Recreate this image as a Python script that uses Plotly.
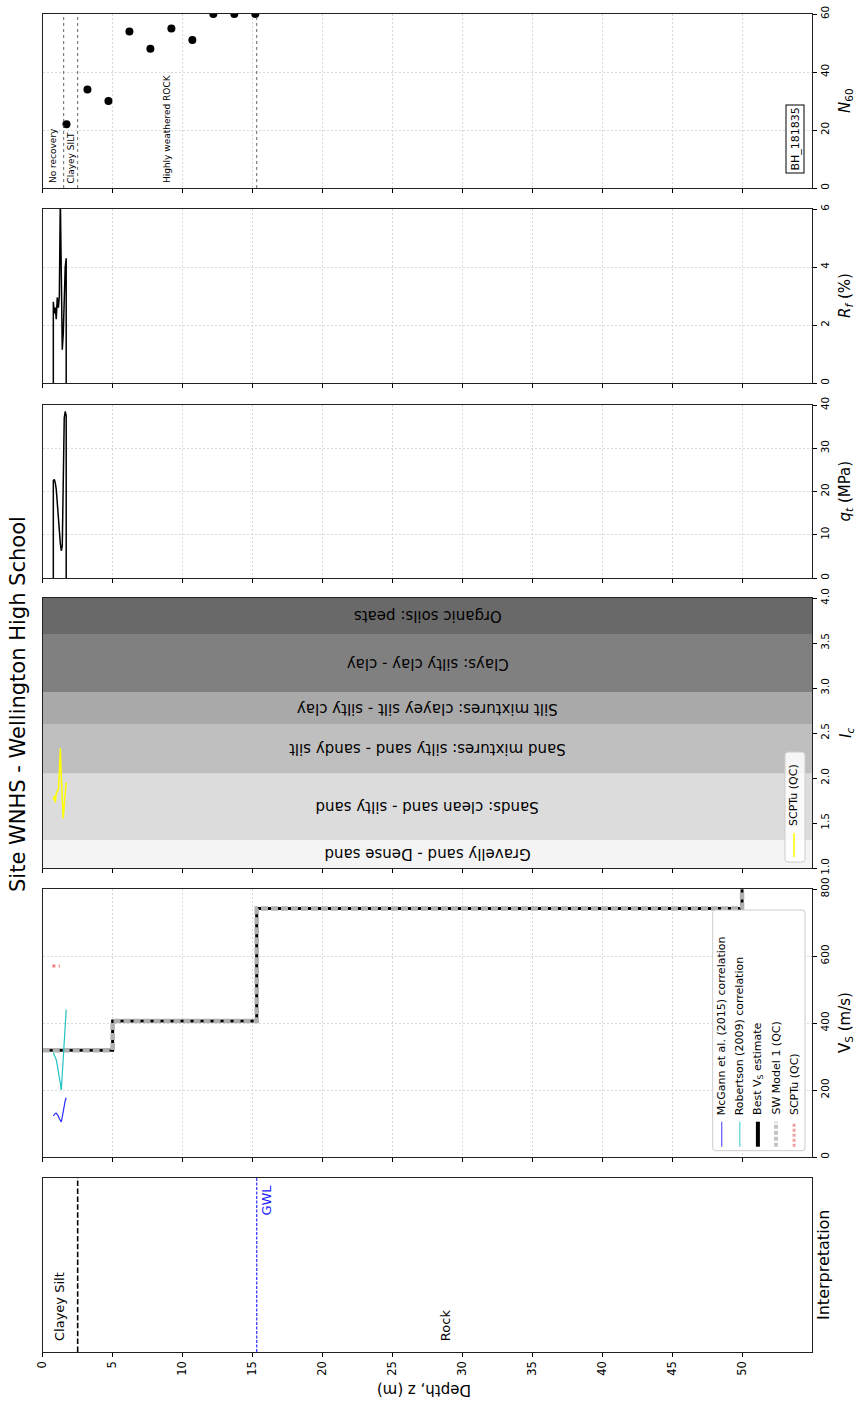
import plotly.graph_objects as go

W, H = 862, 1407
FONT = "DejaVu Sans"

# ---------------- data ----------------
max_depth = 55.0
depth_ticks = [0, 5, 10, 15, 20, 25, 30, 35, 40, 45, 50]

# SPT blow counts from borehole BH_181835
spt_depth = [1.7, 3.2, 4.7, 6.2, 7.7, 9.2, 10.7, 12.2, 13.7, 15.2]
spt_n60 = [22, 34, 30, 54, 48, 55, 51, 60, 60, 60]

# borehole log units
bh_unit_top = [0.0, 1.5, 2.5]
bh_unit_base = [1.5, 2.5, 15.3]
bh_unit_names = ["No recovery", "Clayey SILT", "Highly weathered ROCK"]

# SCPTu (QC) sounding
cpt_depth = [0.76, 0.83, 0.90, 0.97, 1.04, 1.12, 1.19, 1.26, 1.33, 1.40, 1.47, 1.54, 1.61, 1.68]
cpt_qt = [22.5, 22.8, 22.0, 20.5, 18.0, 14.5, 11.0, 8.0, 6.3, 7.5, 20.0, 37.0, 38.5, 37.5]
cpt_rf = [2.8, 2.4, 2.6, 2.2, 2.95, 2.6, 3.0, 6.4, 3.2, 1.15, 1.7, 3.0, 4.0, 4.3]
cpt_ic = [1.76, 1.80, 1.73, 1.83, 1.85, 1.87, 2.05, 2.33, 2.00, 1.70, 1.55, 1.70, 1.85, 1.95]
vs_mcgann = [123, 128, 130, 131, 128, 122, 114, 108, 105, 120, 140, 155, 168, 177]
vs_robertson = [312, 305, 300, 290, 275, 258, 240, 220, 200, 255, 301, 348, 394, 440]

# layered Vs profiles
vs_layer_top = [0.0, 5.0, 15.3, 50.0]
vs_best = [319, 406, 742, 1000]
vs_sw_model = [319, 406, 742, 1000]
scptu_vs_depth = [0.69, 1.22]
scptu_vs = [570, 570]

# Robertson soil behaviour type zones
ic_bounds = [1.0, 1.31, 2.05, 2.6, 2.95, 3.6, 4.0]
ic_zone_names = ["Gravelly sand - Dense sand", "Sands: clean sand - silty sand",
                 "Sand mixtures: silty sand - sandy silt", "Silt mixtures: clayey silt - silty clay",
                 "Clays: silty clay - clay", "Organic soils: peats"]
ic_zone_colors = ["#f4f4f4", "#dcdcdc", "#bfbfbf", "#a9a9a9", "#808080", "#696969"]

# interpreted profile
interp_top = [0.0, 2.5]
interp_base = [2.5, 55.0]
interp_names = ["Clayey Silt", "Rock"]
gwl_depth = 15.3

# ---------------- layout helpers ----------------
def pxx(x):
    return x / W


def pxy(y):
    return 1 - y / H


X0, X1 = 42.7, 812.0
# (top, bottom) pixel rows of the six stacked panels
panels = [(14, 188), (209, 383), (405, 578), (598, 868), (889, 1157), (1178, 1352)]
yranges = [[0, 60], [0, 6], [0, 40], [1, 4], [0, 800], [0, 1]]
ydticks = [20, 2, 10, 0.5, 200, 1]
grids = [True, True, True, False, True, False]
GRID = dict(gridcolor="#d9d9d9", griddash="2px,2px", gridwidth=0.8)

fig = go.Figure()
layout = dict(
    width=W, height=H, margin=dict(l=0, r=0, t=0, b=0),
    paper_bgcolor="white", plot_bgcolor="white",
    font=dict(family=FONT, color="black", size=11),
    showlegend=False,
)

for i, ((top, bot), yr, dt, g) in enumerate(zip(panels, yranges, ydticks, grids), start=1):
    sfx = "" if i == 1 else str(i)
    layout["xaxis" + sfx] = dict(
        domain=[pxx(X0), pxx(X1)], anchor="y" + sfx, range=[0, max_depth],
        tickmode="array", tickvals=depth_ticks, ticks="outside", ticklen=3.5, tickwidth=1,
        tickcolor="black", showticklabels=(i == 6), tickangle=-90, tickfont=dict(size=11.5),
        showgrid=g, **GRID,
        showline=True, mirror=True, linecolor="#222", linewidth=1, zeroline=False,
        automargin=False,
    )
    layout["yaxis" + sfx] = dict(
        domain=[pxy(bot), pxy(top)], anchor="x" + sfx, range=yr, side="right",
        tick0=yr[0], dtick=dt, ticks=("outside" if i != 6 else ""), ticklen=3.5, tickwidth=1,
        tickcolor="black", showticklabels=(i != 6), tickangle=-90, tickfont=dict(size=10.5),
        tickformat=(".1f" if i == 4 else "d"),
        showgrid=g, **GRID,
        showline=True, mirror=True, linecolor="#222", linewidth=1, zeroline=False,
        automargin=False,
    )

shapes = []
annotations = []


def ann(text, x, y, size=11, angle=-90, color="black", xanchor="center", yanchor="middle",
        xref="paper", yref="paper", **kw):
    annotations.append(dict(text=text, x=x, y=y, xref=xref, yref=yref, showarrow=False,
                            textangle=angle, font=dict(size=size, color=color, family=FONT),
                            xanchor=xanchor, yanchor=yanchor, **kw))


def rounded_box(x0, y0, x1, y1, r=3, fill="rgba(255,255,255,0.85)", line="#cccccc"):
    a, b, c, d = pxx(x0), pxx(x1), pxy(y0), pxy(y1)
    rx, ry = r / W, r / H
    path = (f"M {a+rx},{c} L {b-rx},{c} Q {b},{c} {b},{c-ry} L {b},{d+ry} Q {b},{d} {b-rx},{d} "
            f"L {a+rx},{d} Q {a},{d} {a},{d+ry} L {a},{c-ry} Q {a},{c} {a+rx},{c} Z")
    shapes.append(dict(type="path", path=path, xref="paper", yref="paper",
                       fillcolor=fill, line=dict(color=line, width=1), layer="above"))


# ---------------- panel 1: N60 ----------------
for base in bh_unit_base:
    shapes.append(dict(type="line", xref="x", yref="y domain", x0=base, x1=base, y0=0, y1=1,
                       line=dict(color="#555", width=0.9, dash="dot"), layer="above"))
for t, b_, name in zip(bh_unit_top, bh_unit_base, bh_unit_names):
    ann(name, (t + b_) / 2, 0.015, size=9, xref="x", yref="y domain", yanchor="bottom")
fig.add_trace(go.Scatter(x=spt_depth, y=spt_n60, mode="markers", xaxis="x", yaxis="y",
                         marker=dict(color="black", size=8)))
annotations.append(dict(text="BH_181835", x=pxx(794.5), y=pxy(139), xref="paper", yref="paper",
                        showarrow=False, textangle=-90, font=dict(size=11, family=FONT),
                        bordercolor="black", borderwidth=1, borderpad=2, bgcolor="white",
                        xanchor="center", yanchor="middle"))

# ---------------- panel 2: Rf ----------------
fig.add_trace(go.Scatter(x=[cpt_depth[0]] + cpt_depth + [cpt_depth[-1]], y=[0] + cpt_rf + [0],
                         mode="lines", xaxis="x2", yaxis="y2", line=dict(color="black", width=1.5)))

# ---------------- panel 3: qt ----------------
fig.add_trace(go.Scatter(x=[cpt_depth[0]] + cpt_depth + [cpt_depth[-1]], y=[0] + cpt_qt + [0],
                         mode="lines", xaxis="x3", yaxis="y3", line=dict(color="black", width=1.5)))

# ---------------- panel 4: Ic ----------------
for lo, hi, col, name in zip(ic_bounds[:-1], ic_bounds[1:], ic_zone_colors, ic_zone_names):
    shapes.append(dict(type="rect", xref="x4 domain", yref="y4", x0=0, x1=1, y0=lo, y1=hi,
                       fillcolor=col, line=dict(width=0), layer="below"))
    ann(name, max_depth / 2, (lo + hi) / 2, size=15, angle=180, xref="x4", yref="y4")
fig.add_trace(go.Scatter(x=cpt_depth, y=cpt_ic, mode="lines", xaxis="x4", yaxis="y4",
                         line=dict(color="#ffff00", width=1.5)))
rounded_box(785, 752, 805, 862)
shapes.append(dict(type="line", xref="paper", yref="paper", x0=pxx(794), x1=pxx(794),
                   y0=pxy(857), y1=pxy(833), line=dict(color="#ffff00", width=1.5)))
ann("SCPTu (QC)", pxx(794), pxy(828), size=11, yanchor="bottom")

# ---------------- panel 5: Vs ----------------
step_x = vs_layer_top + [max_depth]
fig.add_trace(go.Scatter(x=step_x, y=vs_best + [vs_best[-1]], mode="lines", line_shape="hv",
                         xaxis="x5", yaxis="y5", line=dict(color="black", width=3)))
fig.add_trace(go.Scatter(x=step_x, y=vs_sw_model + [vs_sw_model[-1]], mode="lines", line_shape="hv",
                         xaxis="x5", yaxis="y5", line=dict(color="#b0b0b0", width=4.5, dash="7px,3px")))
fig.add_trace(go.Scatter(x=cpt_depth, y=vs_robertson, mode="lines", xaxis="x5", yaxis="y5",
                         line=dict(color="#22c3c3", width=1.2)))
fig.add_trace(go.Scatter(x=cpt_depth, y=vs_mcgann, mode="lines", xaxis="x5", yaxis="y5",
                         line=dict(color="#2a2aff", width=1.2)))
fig.add_trace(go.Scatter(x=scptu_vs_depth, y=scptu_vs, mode="lines", xaxis="x5", yaxis="y5",
                         line=dict(color="#f08080", width=3, dash="3px,3.3px")))

legend_names = ["McGann et al. (2015) correlation", "Robertson (2009) correlation",
                "Best V<sub>S</sub> estimate", "SW Model 1 (QC)", "SCPTu (QC)"]
legend_colors = ["#6464ff", "#5fd8d8", "black", "#c4c4c4", "#f4a0a0"]
legend_widths = [1.3, 1.3, 4, 4, 3]
legend_dashes = ["solid", "solid", "solid", "4px,2px", "3px,2px"]
rounded_box(712.7, 910, 805, 1150.7)
for k, (nm, col, wd, ds) in enumerate(zip(legend_names, legend_colors, legend_widths, legend_dashes)):
    lx = 721.7 + 18.1 * k
    shapes.append(dict(type="line", xref="paper", yref="paper", x0=pxx(lx), x1=pxx(lx),
                       y0=pxy(1146.7), y1=pxy(1121.7), line=dict(color=col, width=wd, dash=ds)))
    ann(nm, pxx(lx), pxy(1117), size=11, yanchor="bottom")

# ---------------- panel 6: interpretation ----------------
shapes.append(dict(type="line", xref="x6", yref="y6 domain", x0=interp_base[0], x1=interp_base[0],
                   y0=0, y1=1, line=dict(color="black", width=1.6, dash="5.5px,2.4px")))
shapes.append(dict(type="line", xref="x6", yref="y6 domain", x0=gwl_depth, x1=gwl_depth,
                   y0=0, y1=1, line=dict(color="#3c3cff", width=1.3, dash="3px,1.5px")))
ann("GWL", gwl_depth, 0.975, size=13, color="#2020ff", xref="x6", yref="y6 domain",
    yanchor="top", xshift=10)
for t, b_, name in zip(interp_top, interp_base, interp_names):
    ann(name, (t + b_) / 2, 0.05, size=13, xref="x6", yref="y6 domain", yanchor="bottom")

# ---------------- axis titles and figure title ----------------
ann("<i>N</i><sub>60</sub>", pxx(846), pxy(101), size=15)
ann("<i>R<sub>f</sub></i> (%)", pxx(845), pxy(296), size=15)
ann("<i>q<sub>t</sub></i> (MPa)", pxx(845), pxy(491.5), size=15)
ann("<i>I<sub>c</sub></i>", pxx(846), pxy(733), size=15)
ann("V<sub>S</sub> (m/s)", pxx(845), pxy(1023), size=15)
ann("Interpretation", pxx(823), pxy(1265), size=16)
ann("Depth, z (m)", pxx(424), pxy(1390), size=15, angle=180)
ann("Site WNHS - Wellington High School", pxx(18), pxy(704), size=21)

layout["shapes"] = shapes
layout["annotations"] = annotations
fig.update_layout(**layout)
fig.write_html("out.html")
